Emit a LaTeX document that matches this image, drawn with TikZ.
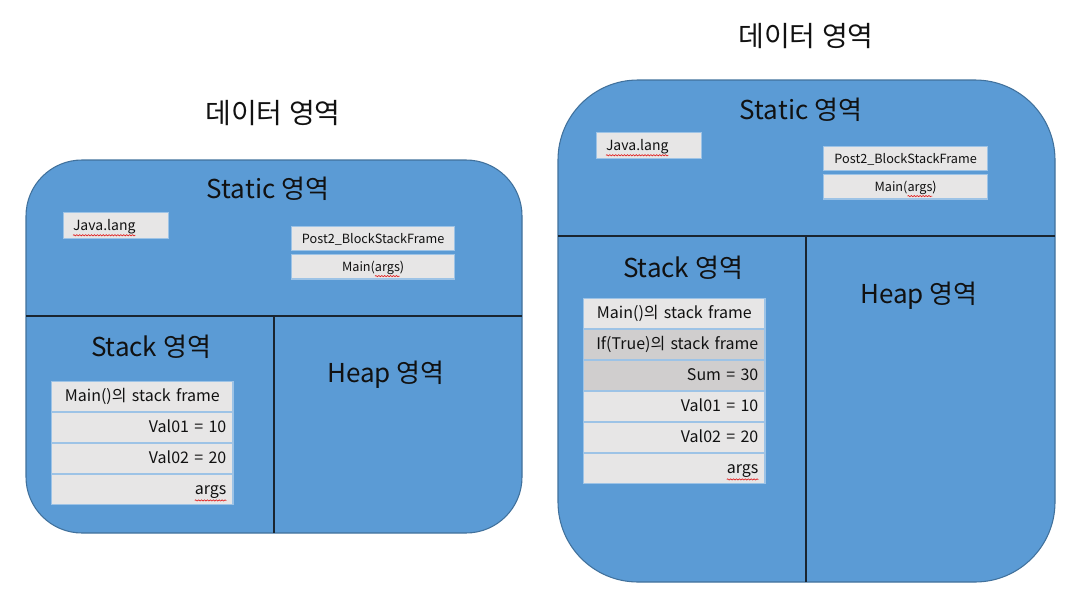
\documentclass[tikz,border=0pt]{standalone}
\usepackage{fontspec}
\setmainfont{Noto Sans CJK KR}
\usepackage{tikz}
\usetikzlibrary{positioning,decorations.pathmorphing}
\usepackage{xcolor}
\definecolor{regionfill}{HTML}{5B9BD5}
\definecolor{regionline}{HTML}{41719C}
\definecolor{divider}{HTML}{1A2530}
\definecolor{cellfill}{HTML}{E7E6E6}
\definecolor{cellshade}{HTML}{D0CECE}
\definecolor{cellline}{HTML}{9DC3E6}
\definecolor{spell}{HTML}{E02020}
\newcommand{\squig}[1]{\tikz[baseline=(sq.base)]{\node[inner sep=0pt,outer sep=0pt,text width=,
    text height=,text depth=,minimum width=0pt,minimum height=0pt,draw=none,fill=none,align=left] (sq) {#1};
  \draw[overlay,spell,line width=0.5pt,decorate,decoration={snake,amplitude=0.45pt,segment length=2.2pt}]
  ([yshift=-1.2pt]sq.south west) -- ([yshift=-1.2pt]sq.south east);}}

\begin{document}
\begin{tikzpicture}[x=0.75pt,y=-0.75pt,
  region/.style={draw=regionline,line width=0.8pt,fill=regionfill},
  split/.style={draw=divider,line width=1.4pt},
  heading/.style={font=\fontsize{19.5}{22}\selectfont},
  cell/.style={rectangle,draw=cellline,line width=1pt,fill=cellfill,inner xsep=5pt,inner ysep=0pt,
    text width=126pt,text height=10pt,text depth=2pt,minimum height=22.25pt,font=\fontsize{12}{14}\selectfont},
  namecell/.style={cell,align=center},
  valcell/.style={cell,align=right},
  small/.style={rectangle,draw=cellline,line width=1pt,fill=cellfill,inner ysep=0pt,
    text height=8.5pt,text depth=1.5pt,font=\fontsize{9.5}{11}\selectfont}]
\color[HTML]{111111}
\useasboundingbox (0,0) rectangle (1092,604);
% LEFT: data area with Main() frame only
\node[heading,font=\fontsize{21}{24}\selectfont] (titleA) at (273,113) {데이터 영역};
\draw[region,rounded corners=42pt] (26,160) rectangle (522,533);
\coordinate (midA-w) at (26,316);
\coordinate (midA-e) at (522,316);
\coordinate (colA-n) at (274,316);
\coordinate (colA-s) at (274,533);
\draw[split] (midA-w) -- (midA-e);
\draw[split] (colA-n) -- (colA-s);
\node[heading] (staticA) at (268,189) {Static 영역};
\node[heading] (stackA) at (151,347) {Stack 영역};
\node[heading] (heapA) at (386,375) {Heap 영역};
\node[small,anchor=north west,minimum width=78.75pt,minimum height=19.25pt,text width=64.75pt,inner xsep=7pt,align=left,font=\fontsize{10.5}{12}\selectfont] (javaA) at (63,212) {\squig{Java.lang}};
\node[small,anchor=north west,minimum width=122.25pt,minimum height=17.75pt] (classA) at (291,226) {Post2\_BlockStackFrame};
\node[small,below=2pt of classA,minimum width=122.25pt,minimum height=18.5pt] (methodA) {Main(\squig{args})};
\node[namecell,anchor=north west] (frameA) at (51,381) {Main()의 stack frame};
\node[valcell,below=0pt of frameA] (val1A) {Val01 = 10};
\node[valcell,below=0pt of val1A] (val2A) {Val02 = 20};
\node[valcell,below=0pt of val2A] (argsA) {\squig{args}};
% RIGHT: data area after entering the if(true) block
\node[heading,font=\fontsize{21}{24}\selectfont] (titleB) at (806,36) {데이터 영역};
\draw[region,rounded corners=60pt] (558,80) rectangle (1055,582);
\coordinate (midB-w) at (558,236);
\coordinate (midB-e) at (1055,236);
\coordinate (colB-n) at (806,236);
\coordinate (colB-s) at (806,582);
\draw[split] (midB-w) -- (midB-e);
\draw[split] (colB-n) -- (colB-s);
\node[heading] (staticB) at (801,110) {Static 영역};
\node[heading] (stackB) at (683,268) {Stack 영역};
\node[heading] (heapB) at (919,296) {Heap 영역};
\node[small,anchor=north west,minimum width=78.75pt,minimum height=19.25pt,text width=64.75pt,inner xsep=7pt,align=left,font=\fontsize{10.5}{12}\selectfont] (javaB) at (596,132) {\squig{Java.lang}};
\node[small,anchor=north west,minimum width=123pt,minimum height=17.75pt] (classB) at (823,146) {Post2\_BlockStackFrame};
\node[small,below=2pt of classB,minimum width=123pt,minimum height=18.5pt] (methodB) {Main(\squig{args})};
\node[namecell,anchor=north west] (frameB) at (583,298) {Main()의 stack frame};
\node[valcell,fill=cellshade,below=0pt of frameB] (blockB) {If(True)의 stack frame};
\node[valcell,fill=cellshade,below=0pt of blockB] (sumB) {Sum = 30};
\node[valcell,below=0pt of sumB] (val1B) {Val01 = 10};
\node[valcell,below=0pt of val1B] (val2B) {Val02 = 20};
\node[valcell,below=0pt of val2B] (argsB) {\squig{args}};
\end{tikzpicture}
\end{document}
